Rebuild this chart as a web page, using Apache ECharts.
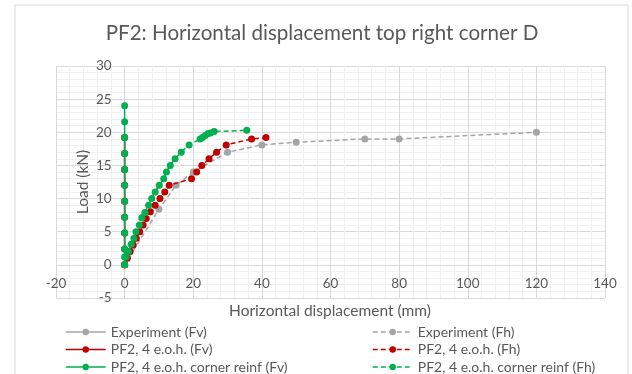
<!DOCTYPE html>
<html>
<head>
<meta charset="utf-8">
<script src="https://cdn.jsdelivr.net/npm/echarts@6/dist/echarts.min.js"></script>
<style>
	html, body { margin: 0; padding: 0; background: #fff; }
	#pf2-chart { width: 632px; height: 374px; }
</style>
</head>
<body>
<div id="pf2-chart"></div>
<script>
// values (x = horizontal displacement mm, y = load kN)
// the Fv curves all sit on x = 0, under the green markers
var expFvX = [0, 0, 0, 0, 0];
var expFvY = [0, 4.8, 9.6, 14.4, 19.2];
var expFhX = [0, 10, 15, 20, 30, 40, 50, 70, 80, 120];
var expFhY = [0, 8.4, 12, 14, 17, 18.1, 18.5, 19, 19, 20];

var redFvX = [0, 0, 0, 0, 0, 0, 0, 0, 0];
var redFvY = [0, 2.4, 4.8, 7.2, 9.6, 12, 14.4, 16.8, 19.2];
var redFhX = [0, 0.8, 1.6, 2.5, 3.4, 4.4, 5.4, 6.3, 7.5, 8.9, 10.3, 11.7, 13.0, 19.5, 21.0, 22.5, 24.6, 26.8, 29.6, 37.0, 41.2];
var redFhY = [0, 1, 2, 3, 4, 5, 6, 7, 8, 9, 10, 11, 12, 13, 14, 15, 16, 17, 18.1, 19, 19.2];

var greenFvX = [0, 0, 0, 0, 0, 0, 0, 0, 0, 0, 0, 0];
var greenFvY = [0, 1.2, 2.4, 4.8, 7.2, 9.6, 12, 14.4, 16.8, 19.2, 21.6, 24];
var greenFhX = [0, 0.4, 1.1, 1.9, 2.7, 3.3, 4.3, 5.0, 5.9, 7.0, 7.9, 8.9, 10.1, 11.4, 12.2, 13.3, 14.7, 16.5, 18.8, 22.0, 22.7, 23.5, 24.3, 25.0, 26.1, 35.6];
var greenFhY = [0, 1.2, 2, 3.1, 4, 5, 6, 7.1, 7.9, 9, 10, 11, 12, 13, 14, 15, 16, 17, 18.1, 19, 19.2, 19.5, 19.8, 19.9, 20.1, 20.3];

var seriesNames = [
	'Experiment (Fv)', 'Experiment (Fh)',
	'PF2, 4 e.o.h. (Fv)', 'PF2, 4 e.o.h. (Fh)',
	'PF2, 4 e.o.h. corner reinf (Fv)', 'PF2, 4 e.o.h. corner reinf (Fh)'
];

var GREY = '#a5a5a5', RED = '#c00000', GREEN = '#00b050';
var TXT = '#595959';
var FONT = 'Lato, "Open Sans", sans-serif';

// plot box in pixels, the axes cross at (0, 0) like in Excel
var GRID_L = 56, GRID_R = 27, GRID_T = 66, GRID_B = 76;
var X_MIN = -20, X_MAX = 140, Y_MIN = -5, Y_MAX = 30;
var gridW = 632 - GRID_L - GRID_R;
var gridH = 374 - GRID_T - GRID_B;

function pairs(xs, ys) {
	var out = [];
	for (var i = 0; i < xs.length; i++) {
		out.push([xs[i], ys[i]]);
	}
	return out;
}

function makeLine(name, color, dashed, xs, ys, z) {
	return {
		name: name,
		type: 'line',
		data: pairs(xs, ys),
		symbol: 'circle',
		symbolSize: 7,
		z: z,
		itemStyle: { color: color },
		lineStyle: { color: color, width: 1.5, type: dashed ? [5, 3] : 'solid' },
		emphasis: { disabled: true }
	};
}

// one legend per entry, laid out as two columns of three rows like Excel does
function makeLegend(name, left, top) {
	return {
		data: [name],
		left: left,
		top: top,
		padding: 0,
		itemWidth: 40,
		itemHeight: 8,
		selectedMode: false,
		lineStyle: { width: 1.5, color: 'inherit', type: 'inherit' },
		textStyle: { fontFamily: FONT, fontSize: 14, lineHeight: 14, color: TXT }
	};
}

function titleText(txt, x, y, size, rot) {
	return {
		type: 'text',
		x: x, y: y,
		z: 100,
		rotation: rot || 0,
		style: {
			text: txt,
			fontFamily: FONT, fontSize: size, fill: TXT,
			align: 'center', verticalAlign: 'middle'
		}
	};
}

var option_pf2 = {
	backgroundColor: '#fff',
	animation: false,
	graphic: [{
		type: 'rect',
		shape: { x: 15, y: 5, width: 613, height: 380 },
		style: { fill: 'none', stroke: '#d9d9d9', lineWidth: 1 },
		silent: true
	},
		titleText('PF2: Horizontal displacement top right corner D', 322, 33, 20.6),
		titleText('Horizontal displacement (mm)', 330, 311, 15.5),
		titleText('Load (kN)', 83, 182, 15.5, Math.PI / 2)
	],
	legend: [
		makeLegend(seriesNames[0], 65, 325),
		makeLegend(seriesNames[2], 65, 342.5),
		makeLegend(seriesNames[4], 65, 360),
		makeLegend(seriesNames[1], 372, 325),
		makeLegend(seriesNames[3], 372, 342.5),
		makeLegend(seriesNames[5], 372, 360)
	],
	grid: {
		left: GRID_L,
		right: GRID_R,
		top: GRID_T,
		bottom: GRID_B
	},
	xAxis: {
		type: 'value',
		min: X_MIN,
		max: X_MAX,
		interval: 20,
		// move the axis up to y = 0
		offset: -(0 - Y_MIN) / (Y_MAX - Y_MIN) * gridH,
		axisLine: { onZero: false, lineStyle: { color: '#d9d9d9' } },
		axisTick: { show: false },
		axisLabel: { margin: 12, fontFamily: FONT, fontSize: 13.5, color: TXT },
		splitLine: { show: true, lineStyle: { color: '#d9d9d9' } },
		minorTick: { show: false, splitNumber: 5 },
		minorSplitLine: { show: true, lineStyle: { color: '#f0f0f0' } }
	},
	yAxis: {
		type: 'value',
		min: Y_MIN,
		max: Y_MAX,
		interval: 5,
		// move the axis right to x = 0
		offset: -(0 - X_MIN) / (X_MAX - X_MIN) * gridW,
		axisLine: { onZero: false, lineStyle: { color: '#d9d9d9' } },
		axisTick: { show: false },
		axisLabel: { margin: 13, fontFamily: FONT, fontSize: 13.5, color: TXT },
		splitLine: { show: true, lineStyle: { color: '#d9d9d9' } },
		minorTick: { show: false, splitNumber: 5 },
		minorSplitLine: { show: true, lineStyle: { color: '#f0f0f0' } }
	},
	series: [
		makeLine(seriesNames[0], GREY, false, expFvX, expFvY, 2),
		makeLine(seriesNames[1], GREY, true, expFhX, expFhY, 2),
		makeLine(seriesNames[2], RED, false, redFvX, redFvY, 3),
		makeLine(seriesNames[3], RED, true, redFhX, redFhY, 3),
		makeLine(seriesNames[4], GREEN, false, greenFvX, greenFvY, 4),
		makeLine(seriesNames[5], GREEN, true, greenFhX, greenFhY, 4)
	]
};

var pf2Chart = echarts.init(document.getElementById('pf2-chart'));
pf2Chart.setOption(option_pf2);
</script>
</body>
</html>
